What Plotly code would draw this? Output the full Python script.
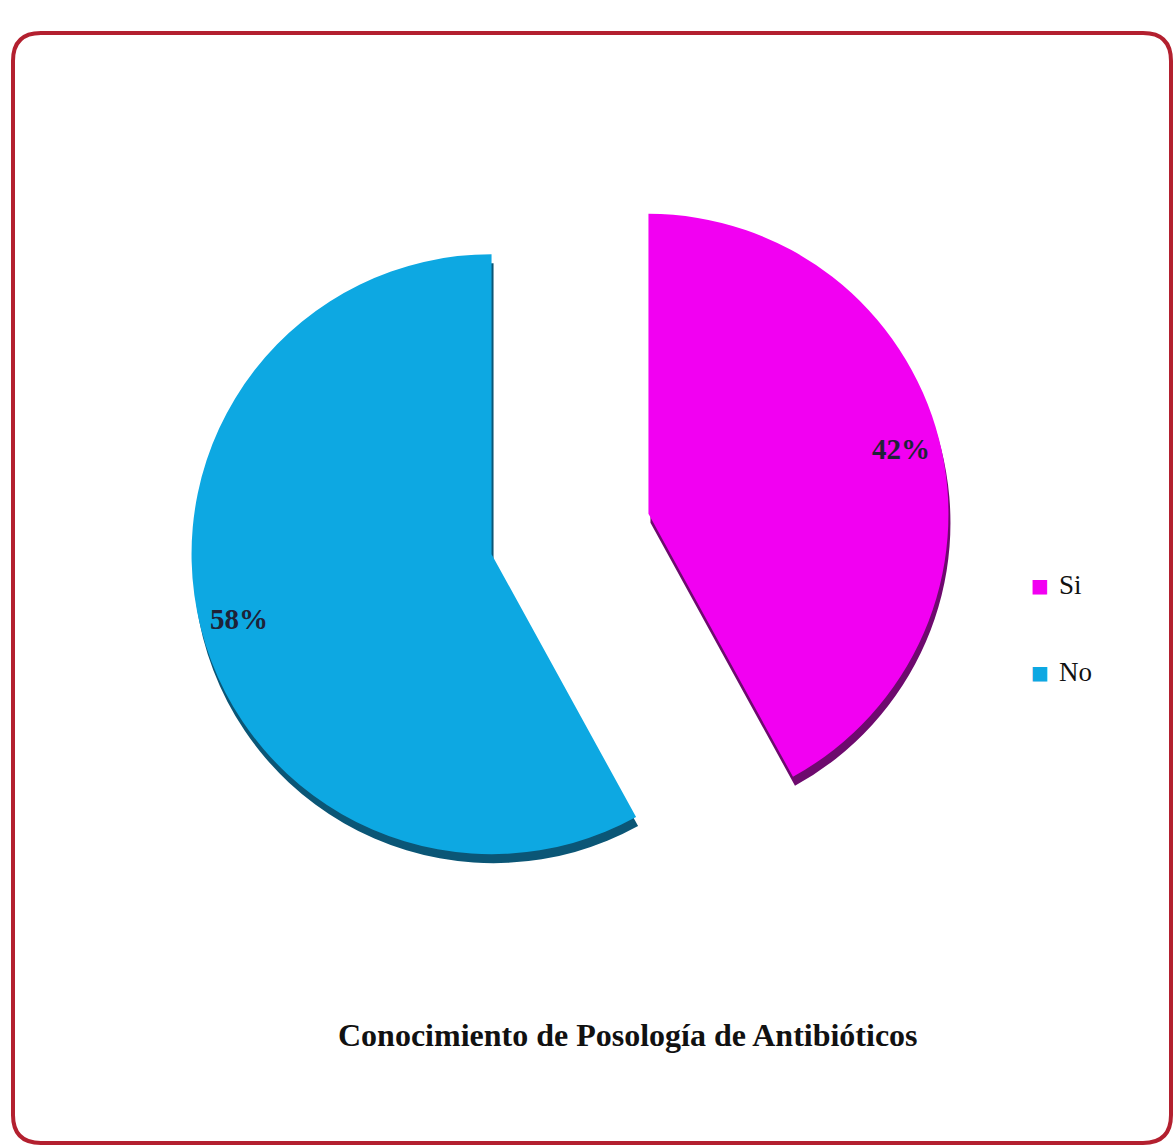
import math
import plotly.graph_objects as go

# Data
labels = ["Si", "No"]
values = [42, 58]
colors = ["#F200F2", "#0DA8E2"]
shadow_colors = ["#6E0A6E", "#0B5676"]
title_text = "Conocimiento de Posología de Antibióticos"

W, H = 1176, 1146
pull = 0.27
center_px = (570, 534)          # pie centre, pixels from top-left
half = 381                       # half of the pie domain side, pixels

def dom(cx, cy):
    return dict(x=[(cx - half) / W, (cx + half) / W],
                y=[(H - cy - half) / H, (H - cy + half) / H])

fig = go.Figure()

# Dark offset copy gives the slices a bevelled depth edge
fig.add_trace(go.Pie(
    labels=labels, values=values, sort=False, direction="clockwise", rotation=0,
    pull=[pull] * len(values), marker=dict(colors=shadow_colors, line=dict(width=0)),
    textinfo="none", hoverinfo="skip", showlegend=False,
    domain=dom(center_px[0] + 2, center_px[1] + 9),
))
fig.add_trace(go.Pie(
    labels=labels, values=values, sort=False, direction="clockwise", rotation=0,
    pull=[pull] * len(values), marker=dict(colors=colors, line=dict(width=0)),
    textinfo="none", showlegend=False,
    domain=dom(*center_px),
))

# Percentage labels placed along each slice's mid-angle
radius = half / (1 + pull)
total = sum(values)
start = 0.0
for v in values:
    frac = v / total
    mid = math.radians((start + frac / 2) * 360)
    dx, dy = math.sin(mid), -math.cos(mid)
    off = pull * radius
    r_lab = 0.87 * radius
    px = center_px[0] + dx * (off + r_lab)
    py = center_px[1] + dy * (off + r_lab)
    fig.add_annotation(
        x=px / W, y=1 - py / H, xref="paper", yref="paper", showarrow=False,
        xanchor="center", yanchor="middle",
        text=f"<b>{frac * 100:.0f}%</b>",
        font=dict(family="Liberation Serif", size=29, color="#1E2238"),
    )
    start += frac

# Legend entries on the right
legend_y = [585, 672]
for lab, col, ly in zip(labels, colors, legend_y):
    fig.add_annotation(x=1040 / W, y=1 - ly / H, xref="paper", yref="paper",
                       showarrow=False, text="■", xanchor="center", yanchor="middle",
                       font=dict(family="DejaVu Sans", size=19, color=col))
    fig.add_annotation(x=1057 / W, y=1 - ly / H, xref="paper", yref="paper",
                       showarrow=False, text=lab, xanchor="left", yanchor="middle",
                       font=dict(family="Liberation Serif", size=27, color="#111111"))

# Chart title below the pie
fig.add_annotation(x=628 / W, y=1 - 1035 / H, xref="paper", yref="paper",
                   showarrow=False, text=f"<b>{title_text}</b>",
                   xanchor="center", yanchor="middle",
                   font=dict(family="Liberation Serif", size=32, color="#111111"))

# Rounded red frame around the chart area
x0, y0, x1, y1, rc = 13, 33, 1171, 1143, 28
def P(x, y):
    return f"{x / W:.5f},{1 - y / H:.5f}"
path = (f"M {P(x0 + rc, y0)} L {P(x1 - rc, y0)} Q {P(x1, y0)} {P(x1, y0 + rc)} "
        f"L {P(x1, y1 - rc)} Q {P(x1, y1)} {P(x1 - rc, y1)} "
        f"L {P(x0 + rc, y1)} Q {P(x0, y1)} {P(x0, y1 - rc)} "
        f"L {P(x0, y0 + rc)} Q {P(x0, y0)} {P(x0 + rc, y0)} Z")
fig.add_shape(type="path", path=path, xref="paper", yref="paper",
              line=dict(color="#B3202F", width=4), fillcolor="rgba(0,0,0,0)")

fig.update_layout(
    width=W, height=H, margin=dict(l=0, r=0, t=0, b=0),
    paper_bgcolor="white", plot_bgcolor="white", showlegend=False,
)

fig.write_html("out.html")
